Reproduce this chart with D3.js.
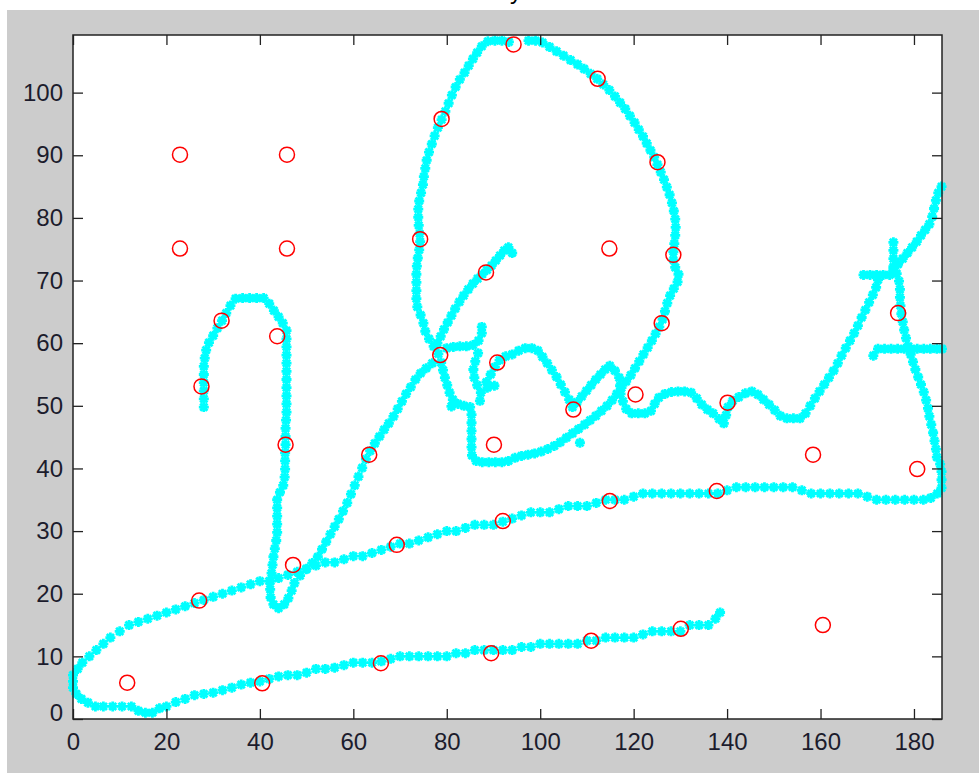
<!DOCTYPE html>
<html lang="en">
  <head>
    <meta charset="UTF-8" />
    <title>trajectory points</title>
    <script src="https://d3js.org/d3.v7.min.js"></script>
    <style>
      body { margin: 0; background: #fff; }
      .tick text { font-family: "Liberation Sans", Arial, sans-serif; font-size: 24px; fill: #1c1c2c; }
      .tick line { stroke: #222; stroke-width: 1.3; }
    </style>
  </head>
  <body>
    <svg width="979" height="773"></svg>
<script>

// cyan '*' tracks in data units
var lowerArm = [[0,5],[0.7,4],[1.8,3.2],[3.2,2.6],[4.8,2],[6.5,2],[8.5,2],[10.5,2],[12.5,2],[14,1.3],[15.5,1],[17,1],[18.5,1.7],[20,2],[22,2.7],[24,3.2],[26,3.8],[28,4],[30,4.2],[32,4.6],[34,5],[36,5.5],[38,5.8],[40,6],[42,6.4],[44,6.8],[46,7],[48,7],[50,7.4],[52,8],[54,8],[56,8.2],[58,8.6],[60,9],[62,9],[64,9],[66,9.2],[68,9.6],[70,10],[72,10],[74,10],[76,10],[78,10],[80,10],[82,10.5],[84,10.5],[86,11],[88,11],[90,11],[92,11],[94,11],[96,11.5],[98,11.5],[100,12],[102,12],[104,12],[106,12],[108,12],[110,12.5],[112,12.5],[114,13],[116,13],[118,13],[120,13],[122,13.5],[124,14],[126,14],[128,14],[130,14],[132,15],[134,15],[136,15],[137.5,16],[138.5,17]];

var upperArm = [[0,6],[0,7],[1,8],[2,9],[3.5,10],[5,11],[6.5,12],[8,13],[10,14],[12,15],[14,15.5],[16,16],[18,16.5],[20,17],[22,17.5],[24,18],[26,18.5],[28,19],[30,19.5],[32,20],[34,20.5],[36,21],[38,21.5],[40,22],[42,22],[44,22.5],[46,23],[48,23.5],[50,24],[52,24.5],[54,25],[56,25],[58,25.5],[60,26],[62,26],[64,26.5],[66,27],[68,27.5],[70,28],[72,28],[74,28.5],[76,29],[78,29.5],[80,30],[82,30],[84,30.5],[86,31],[88,31],[90,31],[92,31.5],[94,32],[96,32.5],[98,33],[100,33],[102,33],[104,33.5],[106,34],[108,34],[110,34],[112,34.5],[114,35],[116,35],[118,35],[120,35.5],[122,36],[124,36],[126,36],[128,36],[130,36],[132,36],[134,36],[136,36],[138,36],[140,36.5],[142,37],[144,37],[146,37],[148,37],[150,37],[152,37],[154,37],[156,36.5],[158,36],[160,36],[162,36],[164,36],[166,36],[168,36],[170,35.5],[172,35],[174,35],[176,35],[178,35],[180,35],[182,35],[183.6,35.3],[185,36]];

var hookCurve = [[28,49.8],[28,51.1],[28,52.4],[28,53.7],[28,55],[28,56.3],[28.2,57.6],[28.5,58.9],[29.1,60.1],[30,61.2],[30.9,62.4],[31.9,63.6],[32.8,64.8],[33.7,66],[34.8,67.1],[36.3,67.2],[37.8,67.2],[39.3,67.2],[40.8,67.2],[42,66.3],[43,65.2],[44,64.2],[44.9,63.2],[45.7,62],[45.7,60.7],[45.7,59.4],[45.7,58.1],[45.7,56.8],[45.7,55.5],[45.7,54.2],[45.7,52.9],[45.7,51.6],[45.7,50.3],[45.7,49],[45.6,47.7],[45.5,46.4],[45.5,45.1],[45.5,43.8],[45.4,42.5],[45.4,41.2],[45.4,39.9],[45.3,38.6],[45,37.3],[44.3,36.2],[43.7,35],[43.7,33.7],[43.7,32.4],[43.7,31.1],[43.7,29.8],[43.5,28.5],[43.2,27.2],[42.9,25.9],[42.7,24.6],[42.5,23.3],[42.3,22],[42.2,20.7],[42.3,19.4],[42.9,18.3],[44,17.7],[45.2,18.3],[46.1,19.3],[46.8,20.5],[47.4,21.7]];

var diagonal = [[48.6,22.9],[49.9,23.9],[51.2,24.9],[52.4,25.9],[53.3,27.1],[54.2,28.3],[55.1,29.5],[56,30.7],[56.9,31.9],[57.8,33.2],[58.7,34.5],[59.5,35.9],[60.3,37.3],[61.1,38.7],[61.9,40.1],[62.7,41.5],[63.6,42.8],[64.6,44],[65.6,45.1],[66.6,46.2],[67.6,47.2],[68.6,48.3],[69.5,49.5],[70.4,50.7],[71.3,51.9],[72.3,53],[73.3,54.2],[74.4,55.2],[75.6,56],[76.9,56.8]];

var ovalLoop = [[78.2,58.3],[77.2,59.5],[76.2,60.7],[75.4,61.9],[75,63.2],[74.4,64.5],[73.7,65.8],[73.5,67.1],[73.5,68.4],[73.5,69.7],[73.5,71],[73.6,72.3],[73.8,73.6],[74.1,74.9],[74.3,76.2],[74.2,77.5],[74,78.8],[73.9,80.1],[73.9,81.4],[74.1,82.7],[74.5,84],[74.9,85.3],[75.1,86.6],[75.4,87.9],[75.7,89.2],[76.2,90.5],[76.8,91.8],[77.4,93.1],[78.1,94.4],[78.9,95.7],[79.7,97],[80.4,98.3],[81.1,99.6],[81.9,100.9],[82.8,102.1],[83.8,103.2],[84.7,104.3],[85.6,105.4],[86.5,106.4],[87.5,107.4],[88.8,108.2],[90.3,108.3],[91.8,108.3],[93.3,108.1],[97.5,108.3],[99,108.3],[100.5,108],[102,107.3],[103.5,106.6],[105,105.9],[106.5,105.2],[108,104.5],[109.4,103.8],[110.8,103],[112.2,102.2],[113.5,101.3],[114.8,100.4],[116,99.4],[117.1,98.4],[118.2,97.4],[119.2,96.3],[120.2,95.2],[121.1,94.1],[122,93],[122.8,91.9],[123.6,90.8],[124.4,89.7],[125.1,88.5],[125.8,87.3],[126.5,86.1],[127.1,84.9],[127.7,83.7],[128.2,82.4],[128.6,81.1],[128.9,79.8],[129,78.5],[128.9,77.2],[128.7,75.9],[128.5,74.6],[128.5,73.3],[128.9,72.1],[129.6,71],[129.4,69.8],[128.6,68.7],[127.8,67.6],[127.2,66.4],[126.7,65.1],[126.2,63.8],[125.5,62.6],[124.7,61.5],[123.9,60.4],[123,59.3],[122.1,58.2],[121.2,57.1],[120.3,56],[119.4,54.9],[118.4,53.9],[117.4,52.9],[116.4,51.9],[115.4,50.9],[114.3,50],[113.1,49.2],[111.9,48.4],[110.7,47.7],[109.5,47],[108.2,46.3],[106.9,45.6],[105.6,44.9],[104.3,44.2],[103,43.6],[101.6,43.1],[100.2,42.7],[98.8,42.4],[97.4,42.2],[96,42],[94.6,41.7],[93.2,41.2],[91.8,41],[90.4,41],[89,41],[87.6,41],[86.3,41.2],[85.4,42.1],[85.3,43.4],[85.3,44.7],[85.3,46],[85.3,47.3],[85.3,48.6],[85,49.8],[83.7,50],[82.4,50.3],[81.3,51],[80.6,52.1],[80.1,53.3],[79.6,54.5],[79.2,55.7],[78.8,56.9]];

var stick = [[78,60],[78.7,61.1],[79.4,62.2],[80.2,63.3],[81,64.4],[81.8,65.5],[82.7,66.6],[83.6,67.6],[84.6,68.6],[85.6,69.5],[86.6,70.3],[87.6,71],[88.6,71.7],[89.6,72.4],[90.5,73.2],[91.4,74],[92.3,74.8],[93.2,75.3],[94,74.4]];

var midWiggle = [[80,59.2],[81.4,59.4],[82.8,59.5],[84.2,59.5],[85.6,59.7],[86.8,60.4],[87.5,61.6],[87.5,62.6],[86.7,58.4],[86.1,57.1],[85.7,55.8],[85.9,54.5],[86.5,53.3],[87.3,52.1],[87.1,50.8],[88.7,52.9],[90.2,53.2],[88.5,53.8],[89.4,55],[90.3,56.2],[91.3,57.3],[92.6,57.9],[94,58.2],[95.4,58.8],[96.8,59.2],[98.2,59.2],[99.5,58.8],[100.5,57.8],[101.5,56.8],[102.5,55.7],[103.5,54.6],[104.4,53.4],[105.3,52.2],[106.2,51],[106.9,49.8],[107.9,50.6],[108.9,51.5],[109.9,52.4],[110.9,53.3],[111.9,54.2],[112.9,55],[113.9,55.8],[114.9,56.4],[116,55.6],[116.9,54.5],[117.1,53.2],[117.2,51.9],[117.7,50.7],[118.4,49.5],[119.6,48.8],[121,48.8],[122.4,48.8],[123.7,49.2],[124.5,50.3],[125.4,51.3],[126.7,51.9],[128.1,52.2],[129.5,52.3],[130.9,52.3],[132.3,52.1],[133.5,51.2],[134.6,50.2],[135.8,49.4],[137,48.8],[138.3,47.9],[139.3,47.2],[139.8,48.5],[140.2,49.8],[141.2,50.8],[142.5,51.4],[143.9,52],[145.3,52.3],[146.6,51.8],[147.8,51],[149,50.2],[150.2,49.3],[151.4,48.4],[152.8,48],[154.2,48],[155.6,48],[156.8,48.8],[157.8,50],[158.8,51.2],[159.8,52.3],[160.8,53.4],[161.8,54.5],[162.8,55.6],[163.7,56.8],[164.5,58],[165.4,59.2],[166.3,60.4],[167.2,61.6],[168,62.8],[168.8,64.1],[169.6,65.3],[170.4,66.5],[171.2,67.7],[171.9,68.9],[172.3,70.1]];

var topBar = [[169.2,70.9],[170.6,70.9],[172,70.9],[173.4,70.9],[174.8,70.9],[175.6,72.2],[175.6,73.5],[175.6,74.8],[175.6,76.1]];

var rightSide = [[185.9,36.9],[185.9,38.2],[185.9,39.5],[185.6,40.7],[184.9,41.8],[184.7,43.1],[184.4,44.4],[184.1,45.7],[183.7,47],[183.3,48.3],[183,49.6],[182.6,50.9],[182.1,52.2],[181.5,53.4],[180.9,54.6],[180.3,55.8],[179.8,57],[179.3,58.2],[178.8,59.5],[178.3,60.8],[177.9,62.1],[177.6,63.4],[177.3,64.7],[177.1,66],[177,67.3],[177,68.6],[176.8,69.9],[176.3,71.1],[175.6,71.8]];

var rightDiag = [[176.6,72.6],[177.6,73.5],[178.6,74.4],[179.6,75.3],[180.6,76.2],[181.5,77.2],[182.4,78.1],[183.3,79],[183.9,80.2],[184.3,81.5],[184.7,82.8],[185.2,84],[185.9,85]];

var midBar = [[172.3,59.1],[173.7,59.1],[175.1,59.1],[176.5,59.1],[177.9,59.1],[179.3,59.1],[180.7,59.1],[182.1,59.1],[183.5,59.1],[184.9,59.1],[186,59.1]];

var strays = [[171.3,58],[81,49.9],[108.5,44.1]];

// red 'o' points
var circles = [[11.6,5.8],[40.5,5.7],[65.9,8.9],[89.5,10.5],[110.9,12.5],[130.1,14.4],[160.5,15],[27,18.9],[47.1,24.6],[69.3,27.8],[92,31.6],[114.9,34.8],[137.8,36.4],[158.4,42.2],[180.7,39.9],[22.9,90.1],[45.8,90.1],[22.9,75.1],[45.8,75.1],[27.5,53.1],[31.8,63.6],[43.7,61.1],[45.5,43.8],[63.4,42.2],[74.3,76.6],[78.6,58.1],[88.4,71.3],[90.8,56.9],[90.1,43.8],[107.1,49.4],[114.8,75.1],[128.5,74.1],[126,63.2],[120.4,51.8],[140.1,50.5],[176.6,64.8],[78.9,95.8],[94.3,107.7],[112.3,102.2],[125.1,88.9]];

var xTicks = [0,20,40,60,80,100,120,140,160,180];
var yTicks = [0,10,20,30,40,50,60,70,80,90,100];

var svg = d3.select("svg");

// figure background
svg.append("rect").attr("x", 7).attr("y", 10).attr("width", 972).attr("height", 763).attr("fill", "#cccccc");

// title sits above the visible window, only its tail shows
svg.append("text")
   .attr("x", 516).attr("y", -1)
   .attr("text-anchor", "middle")
   .attr("font-family", "Liberation Sans, Arial, sans-serif")
   .attr("font-size", "24px")
   .text("y");

var xScale = d3.scaleLinear().domain([0, 186]).range([73, 942]),
    yScale = d3.scaleLinear().domain([0, 109.2]).range([719, 35]);

svg.append("rect")
   .attr("x", 73).attr("y", 35)
   .attr("width", 942 - 73).attr("height", 719 - 35)
   .attr("fill", "#fff");

var star = "M-5,0H5M0,-5V5M-3.6,-3.6L3.6,3.6M-3.6,3.6L3.6,-3.6";

var tracks = [lowerArm, upperArm, hookCurve, diagonal, ovalLoop, stick, midWiggle, topBar, rightSide, rightDiag, midBar, strays];
var cyanPts = [].concat.apply([], tracks);

svg.append("g")
   .selectAll("path")
   .data(cyanPts)
   .enter().append("path")
   .attr("d", star)
   .attr("transform", function(d) { return "translate(" + xScale(d[0]) + "," + yScale(d[1]) + ")"; })
   .attr("fill", "none")
   .attr("stroke", "#00ffff")
   .attr("stroke-width", 2.8);

svg.append("g")
   .selectAll("circle")
   .data(circles)
   .enter().append("circle")
   .attr("cx", function(d) { return xScale(d[0]); })
   .attr("cy", function(d) { return yScale(d[1]); })
   .attr("r", 7.5)
   .attr("fill", "none")
   .attr("stroke", "#ff0000")
   .attr("stroke-width", 1.5);

// axes, ticks pointing inwards on all four sides
var gx = svg.append("g").attr("transform", "translate(0,719)")
   .call(d3.axisBottom(xScale).tickValues(xTicks).tickSizeInner(-10).tickSizeOuter(0).tickPadding(14));
var gxTop = svg.append("g").attr("transform", "translate(0,35)")
   .call(d3.axisTop(xScale).tickValues(xTicks).tickSizeInner(-10).tickSizeOuter(0).tickFormat(""));
var gy = svg.append("g").attr("transform", "translate(73,0)")
   .call(d3.axisLeft(yScale).tickValues(yTicks).tickSizeInner(-10).tickSizeOuter(0).tickPadding(10));
var gyRight = svg.append("g").attr("transform", "translate(942,0)")
   .call(d3.axisRight(yScale).tickValues(yTicks).tickSizeInner(-10).tickSizeOuter(0).tickFormat(""));

[gx, gxTop, gy, gyRight].forEach(function(g) { g.select(".domain").remove(); });

gy.selectAll(".tick text").filter(function(d) { return d === 0; }).attr("dy", "0.05em");

svg.append("rect")
   .attr("x", 73).attr("y", 35)
   .attr("width", 942 - 73).attr("height", 719 - 35)
   .attr("fill", "none")
   .attr("stroke", "#222")
   .attr("stroke-width", 1.5);

</script>
  </body>
</html>
